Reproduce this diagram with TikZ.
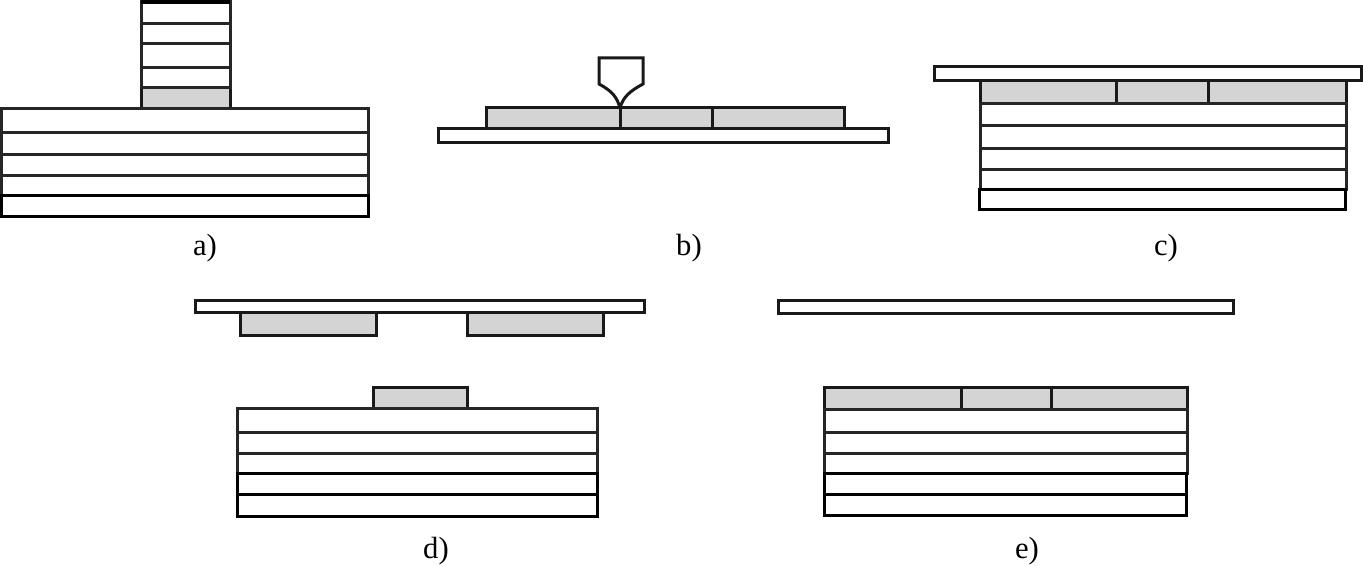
\documentclass[tikz,border=0pt]{standalone}
\usepackage{fontspec}
\setmainfont{Liberation Serif}
\tikzset{
    layer/.style={draw=black!85, line width=2.25pt, fill=white},
    base/.style={draw=black, line width=2.25pt, fill=white},
    part/.style={draw=black!90, line width=2.25pt, fill=black!17},
    plate/.style={draw=black!90, line width=2.25pt, fill=white},
    tag/.style={inner sep=0pt, font=\fontsize{23}{23}\selectfont}
}
\begin{document}
\begin{tikzpicture}[x=0.75pt, y=-0.75pt]
      \useasboundingbox (0,0) rectangle (1363,566);

      % a)
      \draw [part] (141,88) rectangle (230,109);
      \foreach \ya/\yb in {1.5/24, 24/44, 44/68, 68/88}
        \draw [layer] (141,\ya) rectangle (230,\yb);
      \draw [black, line width=3.2pt] (141,1.5) -- (230,1.5);
      \foreach \ya/\yb in {109/133, 133/155, 155/176, 176/196}
        \draw [layer] (1.5,\ya) rectangle (368,\yb);
      \draw [base] (1.5,196) rectangle (368.5,217);
      \node (taga) [tag] at (205,248) {a)};

      % b)
      \draw [plate] (438,129) rectangle (888,143);
      \foreach \xa/\xb in {486/620, 620/712, 712/844}
        \draw [part] (\xa,108) rectangle (\xb,129);
      \draw [plate, line join=miter] (620,108) .. controls (617,97) and (612,91) .. (599,84)
        -- (599,58) -- (643,58) -- (643,84) .. controls (630,91) and (623,97) .. (620,108);
      \node (tagb) [tag] at (689,248) {b)};

      % c)
      \foreach \xa/\xb in {980/1116, 1116/1208, 1208/1346}
        \draw [part] (\xa,81) rectangle (\xb,104);
      \draw [plate] (934,67) rectangle (1361.5,81);
      \foreach \ya/\yb in {104/126, 126/149, 149/170, 170/190}
        \draw [layer] (980,\ya) rectangle (1346,\yb);
      \draw [base] (979,190) rectangle (1345,210);
      \node (tagc) [tag] at (1166,248) {c)};

      % d)
      \draw [part] (240,313) rectangle (376,336);
      \draw [part] (467,313) rectangle (603,336);
      \draw [plate] (195,301) rectangle (644,313);
      \draw [part] (373,388) rectangle (467,408);
      \foreach \ya/\yb in {408/432, 432/453, 453/473}
        \draw [layer] (237,\ya) rectangle (597,\yb);
      \foreach \ya/\yb in {473/494, 494/516}
        \draw [base] (237,\ya) rectangle (597,\yb);
      \node (tagd) [tag] at (436,551) {d)};

      % e)
      \draw [plate] (778,301) rectangle (1233,314);
      \foreach \xa/\xb in {824/961, 961/1051, 1051/1187}
        \draw [part] (\xa,388) rectangle (\xb,409);
      \foreach \ya/\yb in {409/432, 432/453, 453/473}
        \draw [layer] (824,\ya) rectangle (1187,\yb);
      \foreach \ya/\yb in {473/494, 494/515}
        \draw [base] (824,\ya) rectangle (1186,\yb);
      \node (tage) [tag] at (1027,551) {e)};
    \end{tikzpicture}
\end{document}
